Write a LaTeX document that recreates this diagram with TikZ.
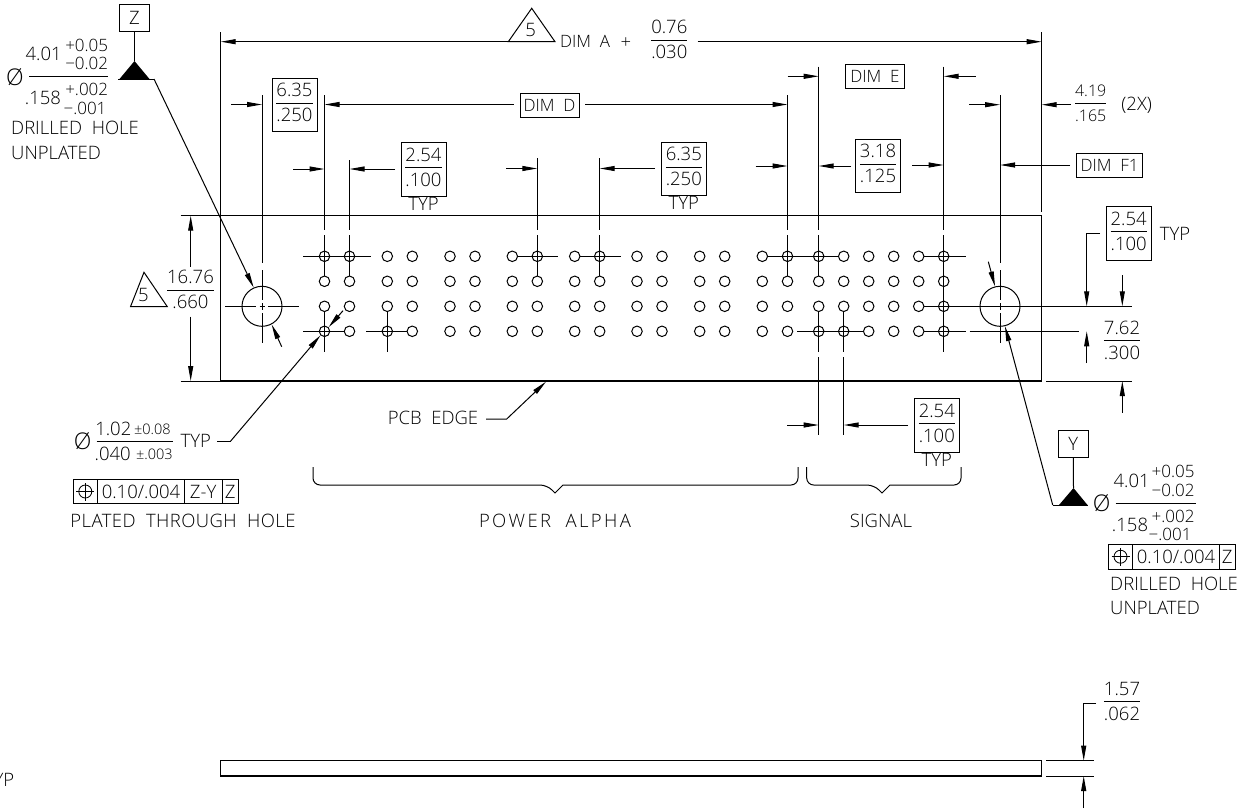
\documentclass[tikz,border=0pt]{standalone}
\usepackage{fontspec}
\usepackage{tikz}
\usetikzlibrary{arrows.meta}
\newfontfamily\cadfont{Open Sans Light}[WordSpace=2]
\setlength{\arrayrulewidth}{0.9pt}
\newcommand{\cadfrac}[2]{\begin{tabular}{@{}c@{}}\rule[-6pt]{0pt}{21pt}#1\\\hline\rule[-3pt]{0pt}{21pt}#2\end{tabular}}
\tikzset{
    cadtext/.style={font=\cadfont\fontsize{18.5}{21}\selectfont,inner sep=0pt},
    smalltext/.style={font=\cadfont\fontsize{17}{20}\selectfont,inner sep=0pt},
    thintext/.style={font=\cadfont\fontsize{16}{19}\selectfont,inner sep=0pt},
    tinytext/.style={font=\cadfont\fontsize{14.5}{17}\selectfont,inner sep=0pt},
    phitext/.style={font=\cadfont\fontsize{23}{26}\selectfont,inner sep=0pt},
    fracbox/.style={cadtext,draw,inner xsep=4.5pt,inner ysep=3.5pt,line width=0.9pt},
    namebox/.style={smalltext,draw,minimum height=24pt,line width=0.9pt},
    cadline/.style={line width=1pt},
    dimline/.style={cadline,-{Triangle[length=15pt,width=5pt]}},
    board/.style={line width=1.5pt},
    pthole/.style={circle,draw,line width=1pt,minimum size=10.5pt,inner sep=0pt},
    bighole/.style={circle,draw,line width=1pt,minimum size=40pt,inner sep=0pt},
    fcfcell/.style={cadtext,draw,line width=0.8pt,minimum height=24.5pt}
}
\begin{document}
\begin{tikzpicture}[x=1pt,y=-1pt]
    \useasboundingbox (0,0) rectangle (1247,809);
    \clip (0,0) rectangle (1247,809);

    % Board outlines
    \draw[board] (220.7,215.7) rectangle (1041.7,381);
    \draw[board] (220.7,760.7) rectangle (1041.7,776);

    % Plated holes
    \foreach \hx [count=\i] in {324.5,349.5,387.3,412.3,450,475,512.3,537.3,574.7,599.7,637,662,699.7,724.7,762.3,787.5,818.7,843.7,868.7,893.7,918.7,943.7}
        \foreach \hy [count=\r] in {256.3,281.3,306.3,331.3}
            \node[pthole] (h\i-\r) at (\hx,\hy) {};

    % Drilled holes
    \node[bighole] (holeZ) at (262,306.3) {};
    \node[bighole] (holeY) at (1000,306.3) {};

    % Centre lines of the rows
    \draw[cadline] (303,256.3) -- (371,256.3);
    \draw[cadline] (517.3,256.3) -- (558,256.3);
    \draw[cadline] (580,256.3) -- (621,256.3);
    \draw[cadline] (768,256.3) -- (838,256.3);
    \draw[cadline] (924,256.3) -- (965.7,256.3);
    \draw[cadline] (924,306.3) -- (1132,306.3);
    \draw[cadline] (924,331.3) -- (965.7,331.3);
    \draw[cadline] (969.7,331.3) -- (1079,331.3);
    \draw[cadline] (797,331.3) -- (863,331.3);
    \draw[cadline] (303,331.3) -- (344.5,331.3);
    \draw[cadline] (366,331.3) -- (407,331.3);
    \draw[cadline] (225,306.3) -- (256,306.3);
    \draw[cadline] (259.5,306.3) -- (264.5,306.3);
    \draw[cadline] (268,306.3) -- (299,306.3);

    % Extension lines above and below the holes
    \foreach \ex/\etop in {324.5/95,349.5/160,537.3/158,599.7/158,787.5/95,818.7/66.7} {
        \draw[cadline] (\ex,\etop) -- (\ex,230);
        \draw[cadline] (\ex,235) -- (\ex,276);
    }
    \draw[cadline] (943.7,66.7) -- (943.7,230);
    \draw[cadline] (943.7,235) -- (943.7,352);
    \foreach \ex in {324.5,387.3}
        \draw[cadline] (\ex,311.5) -- (\ex,352);
    \foreach \ex in {818.7,843.7} {
        \draw[cadline] (\ex,311.5) -- (\ex,352);
        \draw[cadline] (\ex,357) -- (\ex,435);
    }
    \foreach \ex in {262,1000} {
        \draw[cadline] (\ex,95) -- (\ex,263);
        \draw[cadline] (\ex,270) -- (\ex,300);
        \draw[cadline] (\ex,303) -- (\ex,310);
        \draw[cadline] (\ex,313) -- (\ex,343);
    }

    % DIM A
    \draw[cadline] (220.7,32) -- (220.7,215.7);
    \draw[cadline] (1041.7,32) -- (1041.7,211.7);
    \draw[cadline] (531.7,8.3) -- (555,41.7) -- (508.3,41.7) -- cycle;
    \node[cadtext] (fiveA) at (530.7,30) {5};
    \draw[dimline] (508.3,41.7) -- (220.7,41.7);
    \node[smalltext,anchor=west] (dimA) at (560,41.7) {DIM A};
    \node[cadtext] (plusA) at (626,43) {+};
    \node[cadtext] (fracA) at (669.3,41.7) {\cadfrac{0.76}{.030}};
    \draw[dimline] (697.7,41.7) -- (1041.7,41.7);

    % DIM D and first pitch
    \node[fracbox] (pitchL) at (294.5,105) {\cadfrac{6.35}{.250}};
    \draw[dimline] (231,104.5) -- (262,104.5);
    \draw[dimline] (513.5,104.5) -- (324.5,104.5);
    \node[namebox,minimum width=59pt] (dimD) at (549.5,105) {DIM D};
    \draw[dimline] (585,104.5) -- (787.5,104.5);

    % Pitch dimensions over the holes
    \node[fracbox] (pitchA) at (423.5,169.3) {\cadfrac{2.54}{.100}};
    \node[cadtext] (typA) at (423.5,203.7) {TYP};
    \draw[dimline] (293,169) -- (324.5,169);
    \draw[dimline] (395,169) -- (349.5,169);
    \node[fracbox] (pitchB) at (683.8,168.7) {\cadfrac{6.35}{.250}};
    \node[cadtext] (typB) at (683.8,203.3) {TYP};
    \draw[dimline] (506,168.5) -- (537.3,168.5);
    \draw[dimline] (655,168.5) -- (599.7,168.5);
    \node[fracbox] (pitchC) at (878,166) {\cadfrac{3.18}{.125}};
    \draw[dimline] (755.7,166) -- (787.5,166);
    \draw[dimline] (851,166) -- (818.7,166);
    \draw[dimline] (912.3,165) -- (943.7,165);

    % DIM E, DIM F1 and the 2X offset
    \node[namebox,minimum width=58.5pt] (dimE) at (875,76.5) {DIM E};
    \draw[dimline] (787.5,76.3) -- (818.7,76.3);
    \draw[dimline] (975.7,76.3) -- (943.7,76.3);
    \draw[dimline] (969,104.7) -- (1000,104.7);
    \draw[dimline] (1071,104.7) -- (1041.7,104.7);
    \node[thintext] (offset) at (1090.7,104.7) {\cadfrac{4.19}{.165}};
    \node[cadtext] (twoX) at (1136.7,105) {(2X)};
    \node[namebox,minimum width=65.5pt] (dimF) at (1109.5,165.2) {DIM F1};
    \draw[dimline] (1070,165) -- (1000,165);

    % Board height
    \draw[cadline] (180.7,215.7) -- (220.7,215.7);
    \draw[cadline] (180.7,381) -- (220.7,381);
    \draw[dimline] (190.7,266.7) -- (190.7,215.7);
    \draw[dimline] (190.7,316.7) -- (190.7,381);
    \draw[cadline] (144,272.3) -- (167.3,306.7) -- (130.5,306.7) -- cycle;
    \node[cadtext] (fiveH) at (143.5,295) {5};
    \node[cadtext] (fracH) at (190.5,291.7) {\cadfrac{16.76}{.660}};

    % Right side dimensions
    \node[fracbox] (pitchR) at (1128.7,233.3) {\cadfrac{2.54}{.100}};
    \node[cadtext] (typR) at (1175,233.5) {TYP};
    \draw[dimline] (1100,233.5) -- (1086.7,233.5) -- (1086.7,306.3);
    \draw[dimline] (1122.3,275) -- (1122.3,306.3);
    \draw[dimline] (1086.7,363) -- (1086.7,331.3);
    \node[cadtext] (fracR) at (1122,342.3) {\cadfrac{7.62}{.300}};
    \draw[cadline] (1046,381) -- (1132,381);
    \draw[dimline] (1122.3,412.7) -- (1122.3,381);

    % Pitch below the board
    \draw[dimline] (787,425) -- (818.7,425);
    \draw[dimline] (908,425) -- (843.7,425);
    \node[fracbox] (pitchS) at (936.8,425.3) {\cadfrac{2.54}{.100}};
    \node[cadtext] (typS) at (936.8,460) {TYP};

    % PCB edge
    \node[cadtext] (edge) at (433,418) {PCB EDGE};
    \draw[dimline] (486,419) -- (506.7,419) -- (546,381.7);

    % Braces
    \draw[cadline] (313,467) [rounded corners=7pt] -- (313,485) -- (547,485) [sharp corners] -- (555,493) -- (563,485) [rounded corners=7pt] -- (798,485) -- (798,467);
    \draw[cadline] (806.7,467) [rounded corners=7pt] -- (806.7,485) -- (874,485) [sharp corners] -- (882,493) -- (890,485) [rounded corners=7pt] -- (961,485) -- (961,467);
    \node[cadtext] (alpha) at (555,521) {\addfontfeature{LetterSpace=13}POWER ALPHA};
    \node[cadtext] (signal) at (881,521) {SIGNAL};

    % Callout Z
    \node[cadtext,draw,minimum width=30pt,minimum height=27pt,line width=0.9pt] (datumZ) at (134.5,17.5) {Z};
    \coordinate (cornerZ) at (154,79);
    \draw[cadline] (datumZ.south) -- (134.5,61);
    \fill (134.5,61) -- (149.5,79) -- (119.5,79) -- cycle;
    \draw[cadline] (118,79) -- (cornerZ);
    \draw[dimline] (cornerZ) -- (holeZ.114);
    \draw[dimline] (281.7,346.7) -- (holeZ.-62);
    \node[phitext] (phiZ) at (15,76.7) {Ø};
    \draw[cadline] (29,76.3) -- (108.3,76.3);
    \node[cadtext] (nomZ) at (43.7,54) {4.01};
    \node[smalltext] (upZ) at (86.7,45) {+0.05};
    \node[smalltext] (lowZ) at (86.7,63.3) {−0.02};
    \node[cadtext] (nomZb) at (43,98) {.158};
    \node[smalltext] (upZb) at (86.7,89.3) {+.002};
    \node[smalltext] (lowZb) at (85,108) {−.001};
    \node[cadtext,anchor=west] (drillZ) at (11,128) {DRILLED HOLE};
    \node[cadtext,anchor=west] (unplZ) at (11,153) {UNPLATED};

    % Callout Y
    \node[cadtext,draw,minimum width=30pt,minimum height=27.7pt,line width=0.9pt] (datumY) at (1073.3,443.8) {Y};
    \coordinate (cornerY) at (1052.7,505);
    \draw[cadline] (datumY.south) -- (1073.5,488);
    \fill (1073.5,488) -- (1087.5,505) -- (1059,505) -- cycle;
    \draw[cadline] (1087.5,505) -- (cornerY);
    \draw[dimline] (cornerY) -- (holeY.-76);
    \draw[dimline] (988.3,261.7) -- (holeY.104);
    \node[phitext] (phiY) at (1101.7,502.7) {Ø};
    \draw[cadline] (1115.7,503.3) -- (1195.7,503.3);
    \node[cadtext] (nomY) at (1131.7,480.7) {4.01};
    \node[smalltext] (upY) at (1173,471.7) {+0.05};
    \node[smalltext] (lowY) at (1173,490) {−0.02};
    \node[cadtext] (nomYb) at (1130,525) {.158};
    \node[smalltext] (upYb) at (1173,516) {+.002};
    \node[smalltext] (lowYb) at (1170,534.3) {−.001};
    \node[fcfcell,minimum width=24.4pt] (fcfYa) at (1120.5,556.7) {};
    \node[fcfcell,minimum width=86.6pt] (fcfYb) at (1176,556.7) {0.10/.004};
    \node[fcfcell,minimum width=15.7pt] (fcfYc) at (1227.2,556.7) {Z};
    \node[cadtext,anchor=west] (drillY) at (1110,584) {DRILLED HOLE};
    \node[cadtext,anchor=west] (unplY) at (1110,608) {UNPLATED};

    % Callout of the plated holes
    \node[phitext] (phiH) at (82.7,440.7) {Ø};
    \draw[cadline] (96.7,441.3) -- (172.7,441.3);
    \node[cadtext] (nomH) at (113.3,429) {1.02};
    \node[tinytext] (tolH) at (152.3,429) {±0.08};
    \node[cadtext] (nomHb) at (112.7,454) {.040};
    \node[tinytext] (tolHb) at (154.3,454) {±.003};
    \node[cadtext] (typH) at (195.7,441) {TYP};
    \coordinate (cornerH) at (230.7,441);
    \draw[cadline] (217.3,441) -- (cornerH);
    \draw[dimline] (cornerH) -- (h1-4.225);
    \draw[dimline] (343,310.7) -- (h1-4.45);
    \node[fcfcell,minimum width=24.7pt] (fcfHa) at (85.3,491.5) {};
    \node[fcfcell,minimum width=86.6pt] (fcfHb) at (141,491.5) {0.10/.004};
    \node[fcfcell,minimum width=37.7pt] (fcfHc) at (203.1,491.5) {Z-Y};
    \node[fcfcell,minimum width=16.7pt] (fcfHd) at (230.3,491.5) {Z};
    \node[cadtext] (plated) at (183,520.7) {\addfontfeature{LetterSpace=2.3}PLATED THROUGH HOLE};

    % Position symbols
    \foreach \cell in {fcfHa,fcfYa} {
        \draw[line width=0.8pt] (\cell.center) circle (6.5);
        \draw[line width=0.8pt] ([xshift=-9pt]\cell.center) -- ([xshift=9pt]\cell.center);
        \draw[line width=0.8pt] ([yshift=-9pt]\cell.center) -- ([yshift=9pt]\cell.center);
    }

    % Edge view thickness
    \draw[cadline] (1046,760.7) -- (1094,760.7);
    \draw[cadline] (1046,776) -- (1094,776);
    \draw[dimline] (1096,703.3) -- (1083.7,703.3) -- (1083.7,760.7);
    \draw[dimline] (1083.7,808) -- (1083.7,776);
    \node[cadtext] (fracT) at (1122,703.3) {\cadfrac{1.57}{.062}};
    \node[cadtext,anchor=east] (typCut) at (14.5,780) {TYP};
\end{tikzpicture}
\end{document}
